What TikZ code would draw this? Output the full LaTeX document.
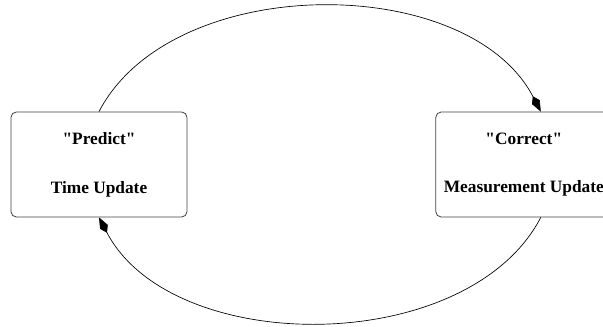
\documentclass[tikz,border=0pt]{standalone}
\usepackage{fontspec}
\setmainfont{Liberation Serif}[Ligatures=TeXOff]
\usepackage{tikz}
\usetikzlibrary{arrows.meta,calc,positioning}

\begin{document}
\begin{tikzpicture}[
  x=0.75pt, y=-0.75pt,
  font=\fontsize{13}{15.6}\selectfont\bfseries,
  >={Kite[length=13pt, width=6.5pt, inset=5pt]},
  stage/.style={draw=black!75, rounded corners=4pt, line width=.6pt,
    minimum width=132pt, minimum height=78.75pt, align=center, inner sep=0pt},
  loop/.style={->, draw=black, line width=.5pt}
]
\useasboundingbox (0,0) rectangle (603,326);

\node[stage] (predict) at (99,164.5) {"Predict"\\[21pt]Time Update};
\node[stage, right=186pt of predict] (correct) {"Correct"\\[21pt]Measurement Update};

\draw[loop] (predict.north) .. controls +(73,-140) and +(-73,-140)
  .. ($(correct.north)+(17,0)$);
\draw[loop] ($(correct.south)+(17,0)$) .. controls +(-73,140) and +(73,140)
  .. (predict.south);
\end{tikzpicture}
\end{document}
